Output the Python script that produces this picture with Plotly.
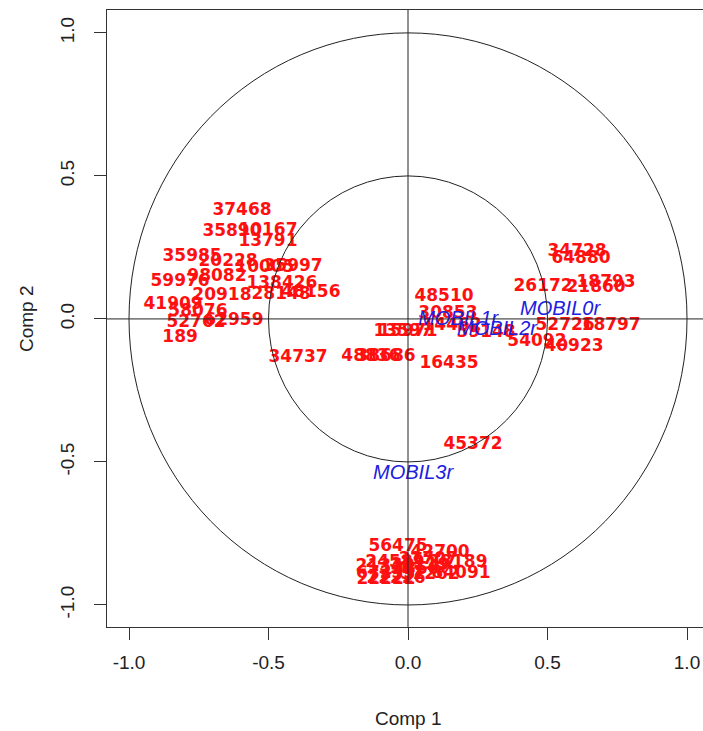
import plotly.graph_objects as go

# Individuals (red labels): name, Comp 1, Comp 2
ind_labels = ["37468", "35890", "10167", "13791", "35985", "20228", "10005", "35997",
              "98082", "59976", "138426", "20918", "28148", "48156", "41909", "58076",
              "52762", "62959", "189", "34737",
              "48510", "30853", "14462", "59148", "13597", "15971", "48836", "38686",
              "16435", "45372",
              "34728", "64880", "26172", "21860", "18793", "52726", "18797", "54092", "40923",
              "56475", "42700", "38189", "24589", "21343", "30119", "84091", "22222",
              "22226", "51262", "67233", "31707", "13850"]
ind_x = [-0.595, -0.631, -0.502, -0.502, -0.774, -0.645, -0.513, -0.412,
         -0.685, -0.817, -0.452, -0.667, -0.455, -0.348, -0.842, -0.753,
         -0.760, -0.624, -0.817, -0.394,
         0.129, 0.143, 0.158, 0.280, -0.018, 0.000, -0.133, -0.079,
         0.147, 0.233,
         0.606, 0.620, 0.484, 0.674, 0.710, 0.563, 0.728, 0.462, 0.595,
         -0.036, 0.115, 0.179, -0.047, -0.082, 0.043, 0.190, -0.079,
         -0.043, 0.079, -0.080, 0.072, 0.007]
ind_y = [0.378, 0.304, 0.308, 0.269, 0.217, 0.199, 0.178, 0.182,
         0.147, 0.129, 0.122, 0.080, 0.084, 0.091, 0.049, 0.024,
         -0.014, -0.007, -0.066, -0.136,
         0.077, 0.017, -0.024, -0.049, -0.045, -0.045, -0.133, -0.133,
         -0.157, -0.441,
         0.234, 0.212, 0.112, 0.108, 0.126, -0.024, -0.024, -0.080, -0.098,
         -0.797, -0.818, -0.853, -0.853, -0.867, -0.864, -0.892, -0.913,
         -0.909, -0.895, -0.892, -0.843, -0.878]

# Variables (blue labels)
var_labels = ["MOBIL0r", "MOBIL1r", "MOBIL2r", "MOBIL3r"]
var_x = [0.545, 0.180, 0.319, 0.018]
var_y = [0.031, -0.003, -0.038, -0.542]

tick_vals = [-1.0, -0.5, 0.0, 0.5, 1.0]
tick_text = ["-1.0", "-0.5", "0.0", "0.5", "1.0"]
radii = [1.0, 0.5]

fig = go.Figure()

for r in radii:
    fig.add_shape(type="circle", xref="x", yref="y", x0=-r, y0=-r, x1=r, y1=r,
                  line=dict(color="#222222", width=1))
fig.add_shape(type="line", xref="x", yref="paper", x0=0, x1=0, y0=0, y1=1,
              line=dict(color="#222222", width=1))
fig.add_shape(type="line", xref="paper", yref="y", x0=0, x1=1, y0=0, y1=0,
              line=dict(color="#222222", width=1))

fig.add_trace(go.Scatter(x=ind_x, y=ind_y, text=ind_labels, mode="text",
                         textposition="middle center",
                         textfont=dict(family="DejaVu Sans", size=17, color="#ff1010", weight="bold"),
                         hoverinfo="skip", showlegend=False))
fig.add_trace(go.Scatter(x=var_x, y=var_y, text=var_labels, mode="text",
                         textposition="middle center",
                         textfont=dict(family="Liberation Sans", size=20, color="#2020e0", style="italic"),
                         hoverinfo="skip", showlegend=False))

axis_font = dict(family="Liberation Sans", size=19, color="#222222")

fig.update_layout(
    width=703, height=731,
    margin=dict(l=107, r=0, t=10, b=104),
    paper_bgcolor="white", plot_bgcolor="white",
    showlegend=False,
    xaxis=dict(range=[-1.0789, 1.0573], tickvals=tick_vals, ticktext=tick_text,
               ticks="outside", ticklen=12, tickcolor="#333333", tickwidth=1,
               showline=True, linecolor="#333333", linewidth=1, mirror=True,
               showgrid=False, zeroline=False, tickfont=axis_font, ticklabelstandoff=6),
    yaxis=dict(range=[-1.077, 1.080], tickvals=tick_vals, ticktext=tick_text,
               ticks="outside", ticklen=12, tickcolor="#333333", tickwidth=1,
               showline=True, linecolor="#333333", linewidth=1, mirror=False,
               showgrid=False, zeroline=False, tickfont=axis_font, tickangle=-90,
               ticklabelstandoff=12),
    annotations=[
        dict(text="Comp 1", xref="x", yref="paper", x=0, y=-0.1475, showarrow=False,
             xanchor="center", yanchor="middle", font=axis_font),
        dict(text="Comp 2", xref="paper", yref="y", x=-0.134, y=0, showarrow=False,
             xanchor="center", yanchor="middle", textangle=-90, font=axis_font),
    ],
)

fig.write_html("out.html")
